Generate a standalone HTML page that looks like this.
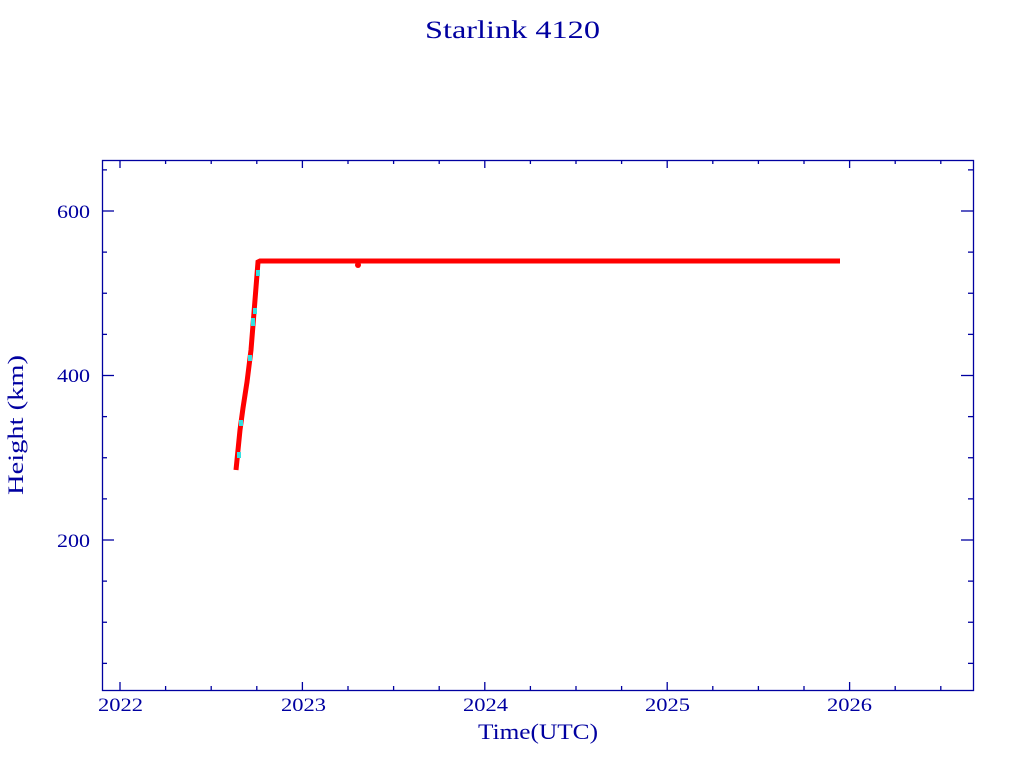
<!DOCTYPE html>
<html><head><meta charset="utf-8"><style>
html,body{margin:0;padding:0;background:#fff;width:1024px;height:768px;overflow:hidden}
text{font-family:"Liberation Serif",serif;fill:#0000a0}
</style></head><body>
<svg id="s" width="1024" height="768" xmlns="http://www.w3.org/2000/svg">
<text x="425" y="38" font-size="25" textLength="175" lengthAdjust="spacingAndGlyphs">Starlink 4120</text>
<text x="478" y="739" font-size="22" textLength="120" lengthAdjust="spacingAndGlyphs">Time(UTC)</text>
<text transform="translate(23,495) rotate(-90)" font-size="22" textLength="140" lengthAdjust="spacingAndGlyphs">Height (km)</text>
<rect x="102.5" y="160.5" width="871" height="530" fill="none" stroke="#0000a0" stroke-width="1.3"/>
<g id="t" stroke="#0000a0" stroke-width="1.3"></g>
<g font-size="19">
<text x="98" y="711" textLength="45" lengthAdjust="spacingAndGlyphs">2022</text><text x="281" y="711" textLength="45" lengthAdjust="spacingAndGlyphs">2023</text><text x="463" y="711" textLength="45" lengthAdjust="spacingAndGlyphs">2024</text><text x="645" y="711" textLength="45" lengthAdjust="spacingAndGlyphs">2025</text><text x="827" y="711" textLength="45" lengthAdjust="spacingAndGlyphs">2026</text>
</g>
<g font-size="19">
<text x="57" y="218" textLength="33" lengthAdjust="spacingAndGlyphs">600</text><text x="57" y="382" textLength="33" lengthAdjust="spacingAndGlyphs">400</text><text x="57" y="547" textLength="33" lengthAdjust="spacingAndGlyphs">200</text>
</g>
<polyline points="236,470 240,430 243,408 247,382 251,350 255,300 258,262 260,261 840,261" fill="none" stroke="#ff0000" stroke-width="5"/>
<g fill="#33e0e0">
<rect x="237" y="452" width="4" height="6"/><rect x="239" y="420" width="4" height="6"/><rect x="248" y="355" width="4" height="6"/><rect x="251" y="318" width="4" height="8"/><rect x="253" y="308" width="4" height="6"/><rect x="256" y="270" width="4" height="6"/>
</g>
<circle cx="358" cy="265" r="3" fill="#ff0000"/>
</svg>
<script>
var g=document.getElementById('t'),d="";
function L(a,b,c,e){d+='<line x1="'+a+'" y1="'+b+'" x2="'+c+'" y2="'+e+'"/>';}
for(var i=0;i<19;i++){var x=120+i*45.6;if(x>973)break;var len=(i%4==0)?8:4;L(x,690,x,690-len);L(x,160,x,160+len);}
for(var v=50;v<=650;v+=50){var y=540-(v-200)*0.8225;var len=(v%200==0)?12:5;L(102,y,102+len,y);L(973,y,973-len,y);}
g.innerHTML=d;
</script>
</body></html>
